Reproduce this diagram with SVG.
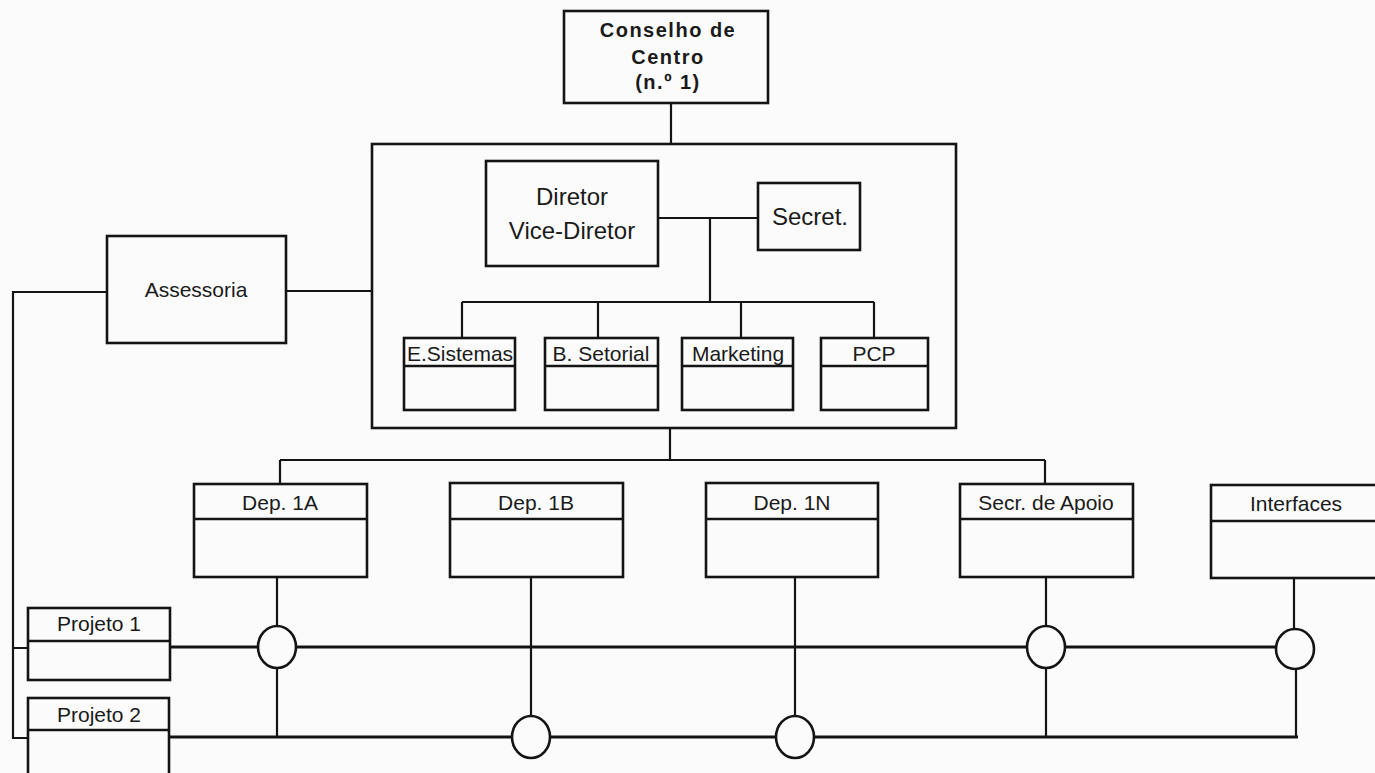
<svg xmlns="http://www.w3.org/2000/svg" width="1375" height="773" viewBox="0 0 1375 773">
  <style>
    .box { fill: none; stroke: #141414; stroke-width: 2.6; }
    .ln { fill: none; stroke: #141414; stroke-width: 2.2; }
    .bus { fill: none; stroke: #141414; stroke-width: 3; }
    .hub { fill: #fbfbfb; stroke: #141414; stroke-width: 2.6; }
    .t { font-family: "Liberation Sans", Arial, sans-serif; font-size: 21px; fill: #1a1a1a; text-anchor: middle; }
    .big { font-size: 24px; }
    .bold { font-weight: bold; font-size: 20px; letter-spacing: 1.5px; }
  </style>
  <rect x="0" y="0" width="1375" height="773" fill="#fbfbfb"/>

  <!-- connectors -->
  <g id="connectors">
    <path class="ln" d="M671,103 V144"/>
    <path class="ln" d="M658,218 H758 M710,218 V302 M462,302 H874 M462,302 V338 M598,302 V338 M741,302 V338 M874,302 V338"/>
    <path class="ln" d="M286,291 H372 M107,292 H13 V738 H28 M13,648 H28"/>
    <path class="ln" d="M670,428 V460 M280,460 H1045 M280,460 V484 M1045,460 V484"/>
    <path class="ln" d="M277,577 V626 M277,668 V737"/>
    <path class="ln" d="M531,577 V716"/>
    <path class="ln" d="M795,577 V716"/>
    <path class="ln" d="M1046,577 V626 M1046,668 V737"/>
    <path class="ln" d="M1294,578 V629 M1296,669 V737"/>
    <path class="bus" d="M170,647 H258 M296,647 H1027 M1065,647 H1276"/>
    <path class="bus" d="M170,737 H512 M550,737 H776 M814,737 H1298"/>
    <ellipse class="hub" cx="277" cy="647" rx="19" ry="21"/>
    <ellipse class="hub" cx="1046" cy="647" rx="19" ry="21"/>
    <ellipse class="hub" cx="1295" cy="649" rx="19" ry="20"/>
    <ellipse class="hub" cx="531" cy="737" rx="19" ry="21"/>
    <ellipse class="hub" cx="795" cy="737" rx="19" ry="21"/>
  </g>

  <g id="conselho">
    <rect class="box" x="564" y="11" width="204" height="92"/>
    <text class="t bold" x="668" y="37">Conselho de</text>
    <text class="t bold" x="668" y="64">Centro</text>
    <text class="t bold" x="668" y="89">(n.º 1)</text>
  </g>

  <g id="direcao">
    <rect class="box" x="372" y="144" width="584" height="284"/>
  </g>

  <g id="diretor">
    <rect class="box" x="486" y="161" width="172" height="105"/>
    <text class="t big" x="572" y="205">Diretor</text>
    <text class="t big" x="572" y="239">Vice-Diretor</text>
  </g>

  <g id="secret">
    <rect class="box" x="758" y="183" width="102" height="67"/>
    <text class="t big" x="810" y="225">Secret.</text>
  </g>

  <g id="e-sistemas">
    <rect class="box" x="404" y="338" width="111" height="72"/>
    <path class="box" d="M404,366 H515"/>
    <text class="t" x="460" y="361">E.Sistemas</text>
  </g>
  <g id="b-setorial">
    <rect class="box" x="545" y="338" width="113" height="72"/>
    <path class="box" d="M545,366 H658"/>
    <text class="t" x="601" y="361">B. Setorial</text>
  </g>
  <g id="marketing">
    <rect class="box" x="682" y="338" width="111" height="72"/>
    <path class="box" d="M682,366 H793"/>
    <text class="t" x="738" y="361">Marketing</text>
  </g>
  <g id="pcp">
    <rect class="box" x="821" y="338" width="107" height="72"/>
    <path class="box" d="M821,366 H928"/>
    <text class="t" x="874" y="361">PCP</text>
  </g>

  <g id="assessoria">
    <rect class="box" x="107" y="236" width="179" height="107"/>
    <text class="t" x="196" y="297">Assessoria</text>
  </g>

  <g id="dep-1a">
    <rect class="box" x="194" y="484" width="173" height="93"/>
    <path class="box" d="M194,519 H367"/>
    <text class="t" x="280" y="510">Dep. 1A</text>
  </g>
  <g id="dep-1b">
    <rect class="box" x="450" y="483" width="173" height="94"/>
    <path class="box" d="M450,519 H623"/>
    <text class="t" x="536" y="510">Dep. 1B</text>
  </g>
  <g id="dep-1n">
    <rect class="box" x="706" y="483" width="172" height="94"/>
    <path class="box" d="M706,519 H878"/>
    <text class="t" x="792" y="510">Dep. 1N</text>
  </g>
  <g id="secr-apoio">
    <rect class="box" x="960" y="484" width="173" height="93"/>
    <path class="box" d="M960,519 H1133"/>
    <text class="t" x="1046" y="510">Secr. de Apoio</text>
  </g>
  <g id="interfaces">
    <rect class="box" x="1211" y="485" width="180" height="93"/>
    <path class="box" d="M1211,521 H1391"/>
    <text class="t" x="1296" y="511">Interfaces</text>
  </g>

  <g id="projeto-1">
    <rect class="box" x="28" y="608" width="142" height="72"/>
    <path class="box" d="M28,641 H170"/>
    <text class="t" x="99" y="631">Projeto 1</text>
  </g>
  <g id="projeto-2">
    <rect class="box" x="28" y="698" width="141" height="85"/>
    <path class="box" d="M28,730 H169"/>
    <text class="t" x="99" y="722">Projeto 2</text>
  </g>
</svg>
